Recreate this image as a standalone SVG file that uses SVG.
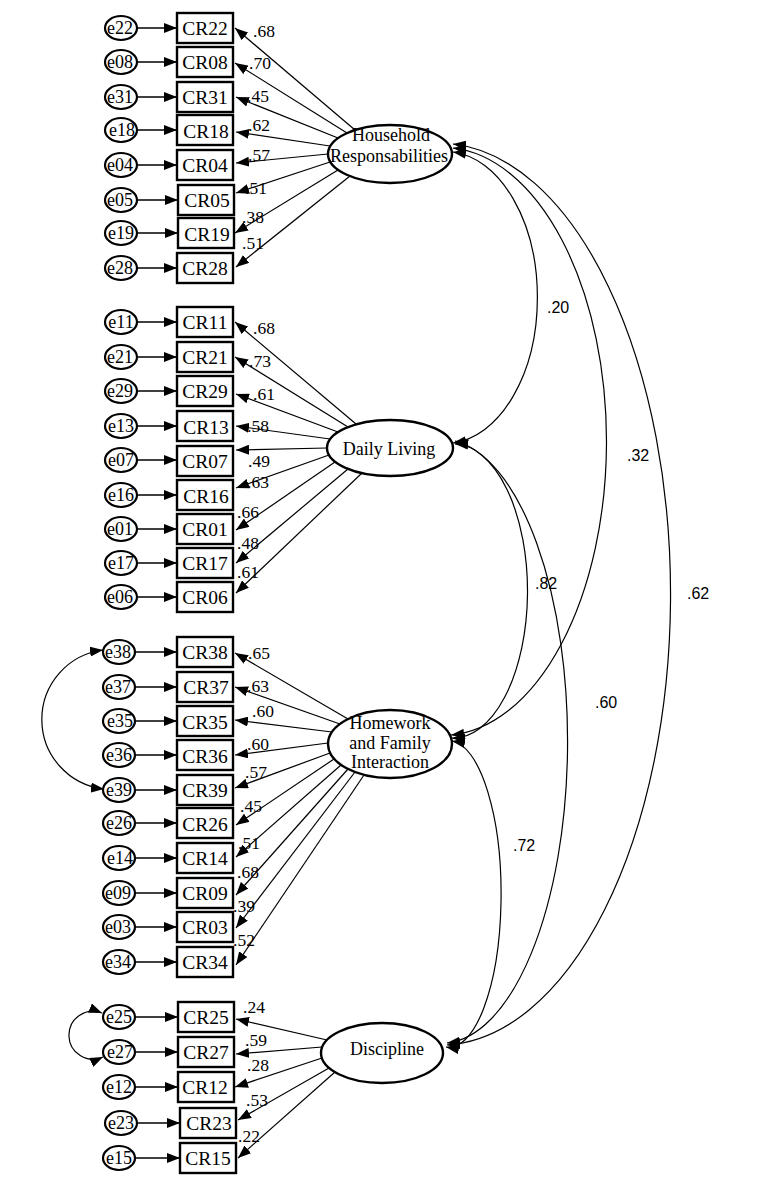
<svg xmlns="http://www.w3.org/2000/svg" width="762" height="1179" viewBox="0 0 762 1179">
<style>
.bg{fill:#fff}
.ev{fill:#fff;stroke:#000;stroke-width:2.2}
.ob{fill:#fff;stroke:#000;stroke-width:2.4}
.lv{fill:#fff;stroke:#000;stroke-width:2.4}
.t{font-family:"Liberation Serif","Times New Roman",serif;fill:#000;text-anchor:middle}
.et{font-size:18px}
.ct{font-size:19.5px}
.ft{font-size:18px}
.ld{font-family:"Liberation Serif","Times New Roman",serif;font-size:17.5px;fill:#000}
.cv{font-family:"Liberation Sans",Arial,sans-serif;font-size:16px;fill:#000}
.ar{fill:none;stroke:#000;stroke-width:1.5;marker-end:url(#ah)}
.lo{fill:none;stroke:#000;stroke-width:1.2;marker-end:url(#ah)}
.co{fill:none;stroke:#000;stroke-width:1.2;marker-start:url(#ah);marker-end:url(#ah)}
</style>
<defs>
<marker id="ah" viewBox="0 0 13 10" refX="13" refY="5" markerWidth="13" markerHeight="10" markerUnits="userSpaceOnUse" orient="auto-start-reverse"><path d="M0,0 L13,5 L0,10 z" fill="#000"/></marker>
</defs>
<rect class="bg" x="0" y="0" width="762" height="1179"/>

<g id="connectors">
<!-- error to indicator -->
<path class="ar" d="M137,28H177"/><path class="ar" d="M137,62H177"/><path class="ar" d="M137,97H177"/><path class="ar" d="M137,130H177"/>
<path class="ar" d="M137,165H177"/><path class="ar" d="M137,200H178"/><path class="ar" d="M137,233H178"/><path class="ar" d="M137,268H177"/>
<path class="ar" d="M137,322H177"/><path class="ar" d="M137,357H177"/><path class="ar" d="M137,391H177"/><path class="ar" d="M137,426H177"/>
<path class="ar" d="M137,460H177"/><path class="ar" d="M137,495H177"/><path class="ar" d="M137,529H177"/><path class="ar" d="M137,563H177"/><path class="ar" d="M137,597H177"/>
<path class="ar" d="M135,652H177"/><path class="ar" d="M135,687H177"/><path class="ar" d="M135,721H177"/><path class="ar" d="M135,755H177"/><path class="ar" d="M135,790H177"/>
<path class="ar" d="M135,823H177"/><path class="ar" d="M135,858H177"/><path class="ar" d="M135,893H177"/><path class="ar" d="M135,927H177"/><path class="ar" d="M135,962H177"/>
<path class="ar" d="M135,1017H178"/><path class="ar" d="M135,1052H178"/><path class="ar" d="M135,1087H178"/><path class="ar" d="M137,1123H180"/><path class="ar" d="M135,1158H180"/>
<!-- loadings HR -->
<path class="lo" d="M355,130L235,28"/><path class="lo" d="M347,133L235,63"/><path class="lo" d="M338,138L236,97"/><path class="lo" d="M330,146L236,132"/>
<path class="lo" d="M328,154L236,163"/><path class="lo" d="M330,162L236,193"/><path class="lo" d="M338,170L235,233"/><path class="lo" d="M350,176L236,267"/>
<!-- loadings DL -->
<path class="lo" d="M356,424L235,322"/><path class="lo" d="M348,427L235,357"/><path class="lo" d="M338,432L236,394"/><path class="lo" d="M330,439L236,426"/>
<path class="lo" d="M327,448L236,450"/><path class="lo" d="M329,455L236,488"/><path class="lo" d="M335,462L236,530"/><path class="lo" d="M348,469L236,563"/><path class="lo" d="M362,473L236,593"/>
<!-- loadings HFI -->
<path class="lo" d="M348,719L235,653"/><path class="lo" d="M340,724L235,687"/><path class="lo" d="M332,732L235,720"/><path class="lo" d="M328,743L235,755"/>
<path class="lo" d="M330,753L235,788"/><path class="lo" d="M334,759L236,825"/><path class="lo" d="M341,765L236,857"/><path class="lo" d="M348,769L236,895"/>
<path class="lo" d="M355,772L236,928"/><path class="lo" d="M364,775L236,965"/>
<!-- loadings D -->
<path class="lo" d="M327,1040L236,1019"/><path class="lo" d="M322,1047L236,1054"/><path class="lo" d="M322,1058L235,1087"/><path class="lo" d="M329,1068L238,1120"/><path class="lo" d="M335,1072L238,1158"/>
<!-- error covariances -->
<path class="co" d="M103,650A70,70 0 0 0 104,789"/>
<path class="co" d="M102,1013A24,24 0 1 0 103,1057"/>
<!-- factor covariances -->
<path class="co" d="M453,152A92,146 0 0 1 453,443"/>
<path class="co" d="M453,148A164,294 0 0 1 451,735"/>
<path class="co" d="M453,144A231,451 0 0 1 447,1045"/>
<path class="co" d="M455,444A74,147 0 0 1 452,738"/>
<path class="co" d="M455,441A126,302 0 0 1 447,1043"/>
<path class="co" d="M452,741A52,153 0 0 1 446,1047"/>
<!-- loading labels -->
<text class="ld" x="253" y="37">.68</text><text class="ld" x="249" y="69">.70</text><text class="ld" x="247" y="102">.45</text><text class="ld" x="248" y="131">.62</text>
<text class="ld" x="248" y="161">.57</text><text class="ld" x="245" y="194">.51</text><text class="ld" x="242" y="223">.38</text><text class="ld" x="242" y="249">.51</text>
<text class="ld" x="253" y="334">.68</text><text class="ld" x="249" y="367">.73</text><text class="ld" x="253" y="400">.61</text><text class="ld" x="247" y="432">.58</text>
<text class="ld" x="248" y="467">.49</text><text class="ld" x="247" y="488">.63</text><text class="ld" x="237" y="518">.66</text><text class="ld" x="237" y="549">.48</text><text class="ld" x="237" y="578">.61</text>
<text class="ld" x="248" y="659">.65</text><text class="ld" x="247" y="692">.63</text><text class="ld" x="252" y="717">.60</text><text class="ld" x="247" y="750">.60</text>
<text class="ld" x="245" y="778">.57</text><text class="ld" x="240" y="812">.45</text><text class="ld" x="238" y="849">.51</text><text class="ld" x="237" y="878">.68</text>
<text class="ld" x="233" y="912">.39</text><text class="ld" x="233" y="946">.52</text>
<text class="ld" x="243" y="1013">.24</text><text class="ld" x="245" y="1046">.59</text><text class="ld" x="247" y="1071">.28</text><text class="ld" x="246" y="1106">.53</text><text class="ld" x="238" y="1142">.22</text>
<!-- covariance labels -->
<text class="cv" x="547" y="313">.20</text>
<text class="cv" x="627" y="461">.32</text>
<text class="cv" x="687" y="599">.62</text>
<text class="cv" x="535" y="589">.82</text>
<text class="cv" x="595" y="708">.60</text>
<text class="cv" x="513" y="851">.72</text>
</g>

<g id="factors">
<g id="f-household"><ellipse class="lv" cx="390" cy="154" rx="62" ry="29"/><text class="t ft" x="391" y="141">Household</text><text class="t ft" x="389" y="162">Responsabilities</text></g>
<g id="f-daily"><ellipse class="lv" cx="390" cy="448" rx="63" ry="28"/><text class="t ft" x="389" y="455">Daily Living</text></g>
<g id="f-homework"><ellipse class="lv" cx="390" cy="744" rx="62" ry="34"/><text class="t ft" x="390" y="729">Homework</text><text class="t ft" x="390" y="749">and Family</text><text class="t ft" x="390" y="768">Interaction</text></g>
<g id="f-discipline"><ellipse class="lv" cx="382" cy="1053" rx="61" ry="30"/><text class="t ft" x="387" y="1055">Discipline</text></g>
</g>

<g id="indicators">
<g id="CR22"><rect class="ob" x="177" y="13" width="56" height="30"/><text class="t ct" x="205" y="35">CR22</text></g>
<g id="CR08"><rect class="ob" x="177" y="47" width="56" height="30"/><text class="t ct" x="205" y="69">CR08</text></g>
<g id="CR31"><rect class="ob" x="177" y="82" width="56" height="30"/><text class="t ct" x="205" y="104">CR31</text></g>
<g id="CR18"><rect class="ob" x="177" y="115" width="56" height="30"/><text class="t ct" x="206" y="138">CR18</text></g>
<g id="CR04"><rect class="ob" x="177" y="150" width="56" height="30"/><text class="t ct" x="205" y="172">CR04</text></g>
<g id="CR05"><rect class="ob" x="178" y="185" width="56" height="30"/><text class="t ct" x="207" y="207">CR05</text></g>
<g id="CR19"><rect class="ob" x="178" y="218" width="56" height="30"/><text class="t ct" x="207" y="241">CR19</text></g>
<g id="CR28"><rect class="ob" x="177" y="253" width="56" height="30"/><text class="t ct" x="205" y="275">CR28</text></g>

<g id="CR11"><rect class="ob" x="177" y="307" width="56" height="30"/><text class="t ct" x="205" y="329">CR11</text></g>
<g id="CR21"><rect class="ob" x="177" y="342" width="56" height="30"/><text class="t ct" x="205" y="364">CR21</text></g>
<g id="CR29"><rect class="ob" x="177" y="376" width="56" height="30"/><text class="t ct" x="205" y="398">CR29</text></g>
<g id="CR13"><rect class="ob" x="177" y="411" width="56" height="30"/><text class="t ct" x="206" y="434">CR13</text></g>
<g id="CR07"><rect class="ob" x="177" y="446" width="56" height="30"/><text class="t ct" x="205" y="468">CR07</text></g>
<g id="CR16"><rect class="ob" x="177" y="480" width="56" height="30"/><text class="t ct" x="206" y="503">CR16</text></g>
<g id="CR01"><rect class="ob" x="177" y="514" width="56" height="30"/><text class="t ct" x="205" y="536">CR01</text></g>
<g id="CR17"><rect class="ob" x="177" y="548" width="56" height="30"/><text class="t ct" x="205" y="570">CR17</text></g>
<g id="CR06"><rect class="ob" x="177" y="582" width="56" height="30"/><text class="t ct" x="205" y="604">CR06</text></g>

<g id="CR38"><rect class="ob" x="177" y="637" width="56" height="30"/><text class="t ct" x="205" y="659">CR38</text></g>
<g id="CR37"><rect class="ob" x="177" y="672" width="56" height="30"/><text class="t ct" x="206" y="694">CR37</text></g>
<g id="CR35"><rect class="ob" x="177" y="706" width="56" height="30"/><text class="t ct" x="205" y="729">CR35</text></g>
<g id="CR36"><rect class="ob" x="177" y="740" width="56" height="30"/><text class="t ct" x="205" y="763">CR36</text></g>
<g id="CR39"><rect class="ob" x="177" y="775" width="56" height="30"/><text class="t ct" x="205" y="797">CR39</text></g>
<g id="CR26"><rect class="ob" x="177" y="808" width="56" height="30"/><text class="t ct" x="205" y="831">CR26</text></g>
<g id="CR14"><rect class="ob" x="177" y="843" width="56" height="30"/><text class="t ct" x="205" y="865">CR14</text></g>
<g id="CR09"><rect class="ob" x="177" y="878" width="56" height="30"/><text class="t ct" x="205" y="900">CR09</text></g>
<g id="CR03"><rect class="ob" x="177" y="912" width="56" height="30"/><text class="t ct" x="205" y="934">CR03</text></g>
<g id="CR34"><rect class="ob" x="177" y="947" width="56" height="30"/><text class="t ct" x="205" y="969">CR34</text></g>

<g id="CR25"><rect class="ob" x="178" y="1002" width="56" height="30"/><text class="t ct" x="206" y="1024">CR25</text></g>
<g id="CR27"><rect class="ob" x="178" y="1037" width="56" height="30"/><text class="t ct" x="206" y="1059">CR27</text></g>
<g id="CR12"><rect class="ob" x="178" y="1072" width="56" height="30"/><text class="t ct" x="205" y="1094">CR12</text></g>
<g id="CR23"><rect class="ob" x="180" y="1108" width="56" height="30"/><text class="t ct" x="209" y="1130">CR23</text></g>
<g id="CR15"><rect class="ob" x="180" y="1143" width="56" height="30"/><text class="t ct" x="208" y="1165">CR15</text></g>
</g>

<g id="errors">
<g id="e22"><ellipse class="ev" cx="121" cy="28" rx="16" ry="12"/><text class="t et" x="120" y="34">e22</text></g>
<g id="e08"><ellipse class="ev" cx="121" cy="62" rx="16" ry="12"/><text class="t et" x="120" y="68">e08</text></g>
<g id="e31"><ellipse class="ev" cx="121" cy="97" rx="16" ry="12"/><text class="t et" x="120" y="103">e31</text></g>
<g id="e18"><ellipse class="ev" cx="121" cy="130" rx="16" ry="12"/><text class="t et" x="122" y="136">e18</text></g>
<g id="e04"><ellipse class="ev" cx="121" cy="165" rx="16" ry="12"/><text class="t et" x="120" y="171">e04</text></g>
<g id="e05"><ellipse class="ev" cx="121" cy="200" rx="16" ry="12"/><text class="t et" x="120" y="206">e05</text></g>
<g id="e19"><ellipse class="ev" cx="121" cy="233" rx="16" ry="12"/><text class="t et" x="121" y="239">e19</text></g>
<g id="e28"><ellipse class="ev" cx="121" cy="268" rx="16" ry="12"/><text class="t et" x="120" y="274">e28</text></g>

<g id="e11"><ellipse class="ev" cx="121" cy="322" rx="16" ry="12"/><text class="t et" x="121" y="328">e11</text></g>
<g id="e21"><ellipse class="ev" cx="121" cy="357" rx="16" ry="12"/><text class="t et" x="120" y="363">e21</text></g>
<g id="e29"><ellipse class="ev" cx="121" cy="391" rx="16" ry="12"/><text class="t et" x="120" y="397">e29</text></g>
<g id="e13"><ellipse class="ev" cx="121" cy="426" rx="16" ry="12"/><text class="t et" x="121" y="432">e13</text></g>
<g id="e07"><ellipse class="ev" cx="121" cy="460" rx="16" ry="12"/><text class="t et" x="121" y="466">e07</text></g>
<g id="e16"><ellipse class="ev" cx="121" cy="495" rx="16" ry="12"/><text class="t et" x="121" y="501">e16</text></g>
<g id="e01"><ellipse class="ev" cx="121" cy="529" rx="16" ry="12"/><text class="t et" x="120" y="535">e01</text></g>
<g id="e17"><ellipse class="ev" cx="121" cy="563" rx="16" ry="12"/><text class="t et" x="121" y="569">e17</text></g>
<g id="e06"><ellipse class="ev" cx="121" cy="597" rx="16" ry="12"/><text class="t et" x="120" y="603">e06</text></g>

<g id="e38"><ellipse class="ev" cx="119" cy="652" rx="16" ry="12"/><text class="t et" x="118" y="658">e38</text></g>
<g id="e37"><ellipse class="ev" cx="119" cy="687" rx="16" ry="12"/><text class="t et" x="118" y="693">e37</text></g>
<g id="e35"><ellipse class="ev" cx="119" cy="721" rx="16" ry="12"/><text class="t et" x="120" y="727">e35</text></g>
<g id="e36"><ellipse class="ev" cx="119" cy="755" rx="16" ry="12"/><text class="t et" x="119" y="761">e36</text></g>
<g id="e39"><ellipse class="ev" cx="119" cy="790" rx="16" ry="12"/><text class="t et" x="119" y="796">e39</text></g>
<g id="e26"><ellipse class="ev" cx="119" cy="823" rx="16" ry="12"/><text class="t et" x="119" y="829">e26</text></g>
<g id="e14"><ellipse class="ev" cx="119" cy="858" rx="16" ry="12"/><text class="t et" x="120" y="864">e14</text></g>
<g id="e09"><ellipse class="ev" cx="119" cy="893" rx="16" ry="12"/><text class="t et" x="118" y="899">e09</text></g>
<g id="e03"><ellipse class="ev" cx="119" cy="927" rx="16" ry="12"/><text class="t et" x="118" y="933">e03</text></g>
<g id="e34"><ellipse class="ev" cx="119" cy="962" rx="16" ry="12"/><text class="t et" x="118" y="968">e34</text></g>

<g id="e25"><ellipse class="ev" cx="119" cy="1017" rx="16" ry="12"/><text class="t et" x="119" y="1023">e25</text></g>
<g id="e27"><ellipse class="ev" cx="119" cy="1052" rx="16" ry="12"/><text class="t et" x="120" y="1058">e27</text></g>
<g id="e12"><ellipse class="ev" cx="119" cy="1087" rx="16" ry="12"/><text class="t et" x="119" y="1093">e12</text></g>
<g id="e23"><ellipse class="ev" cx="121" cy="1123" rx="16" ry="12"/><text class="t et" x="121" y="1129">e23</text></g>
<g id="e15"><ellipse class="ev" cx="119" cy="1158" rx="16" ry="12"/><text class="t et" x="119" y="1164">e15</text></g>
</g>
</svg>
